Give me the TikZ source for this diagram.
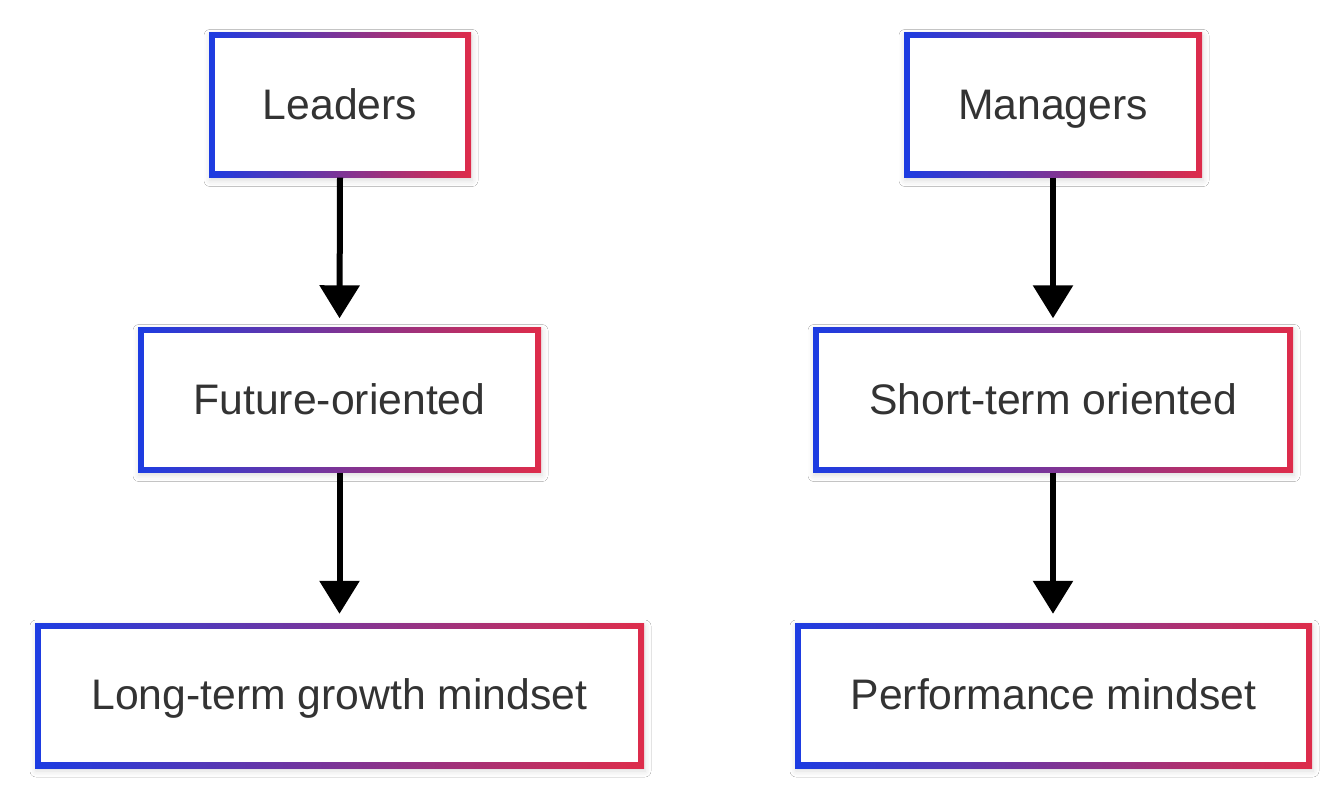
\documentclass[tikz,border=0pt]{standalone}
\usepackage{fontspec}
\setmainfont{Liberation Sans}
\usetikzlibrary{arrows.meta,shadows.blur}
\definecolor{cblue}{RGB}{28,60,226}
\definecolor{cred}{RGB}{222,44,74}
\definecolor{ctext}{RGB}{51,51,51}
\tikzset{
  gbox/.style={rectangle, inner sep=0pt, minimum height=145pt,
    text height=30.6pt, text depth=2pt,
    left color=cblue, right color=cred,
    path picture={\fill[white] ([shift={(6pt,6pt)}]path picture bounding box.south west) rectangle ([shift={(-6pt,-6pt)}]path picture bounding box.north east);},
    blur shadow={shadow xshift=1pt, shadow yshift=-3pt, shadow blur radius=6pt, shadow opacity=14},
    font=\fontsize{42.7}{50}\selectfont, text=ctext},
  flow/.style={line width=6pt, black, -{Triangle[width=39pt,length=33pt]}, shorten >=9pt}
}
\begin{document}
\begin{tikzpicture}[x=1pt,y=-1pt]
\useasboundingbox[fill=white] (0,0) rectangle (1336,794);
\node[gbox, minimum width=262pt] (lead) at (340,105) {Leaders};
\node[gbox, minimum width=403pt] (fut) at (339.5,400) {Future-oriented};
\node[gbox, minimum width=609pt] (long) at (339.5,695.5) {Long-term growth mindset};
\node[gbox, minimum width=298pt] (man) at (1053,105) {Managers};
\node[gbox, minimum width=480pt] (short) at (1053,400) {Short-term oriented};
\node[gbox, minimum width=517pt] (perf) at (1053.5,695.5) {Performance mindset};
\draw[flow] (lead.south) -- (fut.north);
\draw[flow] (fut.south) -- (long.north);
\draw[flow] (man.south) -- (man.south |- short.north);
\draw[flow] (short.south) -- (short.south |- perf.north);
\end{tikzpicture}
\end{document}
